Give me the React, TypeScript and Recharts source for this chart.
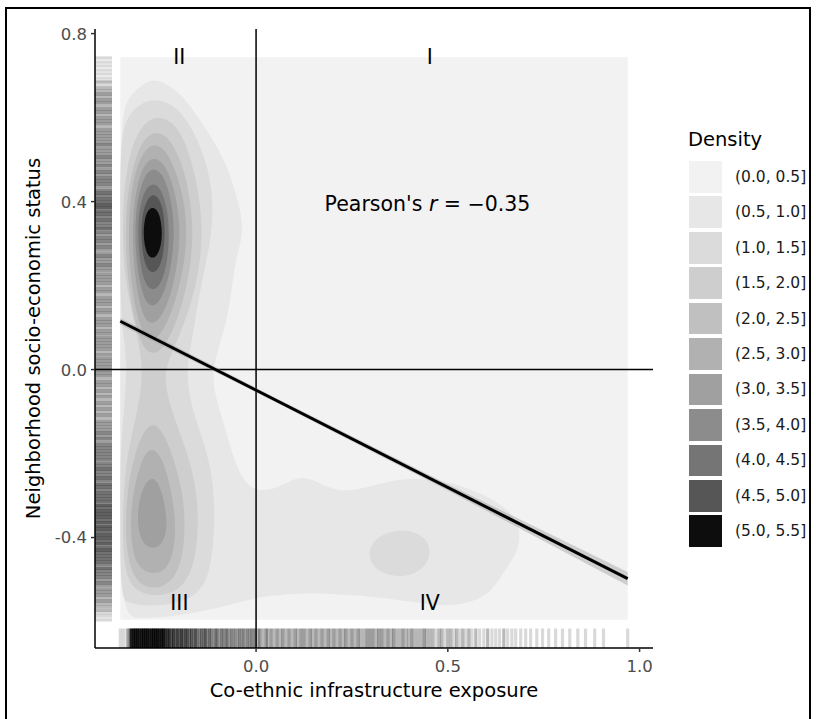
import { ScatterChart, Scatter, XAxis, YAxis } from "recharts";

const FONT = '"DejaVu Sans", sans-serif';

// panel ranges (data units)
const X_DOMAIN: [number, number] = [-0.42, 1.035];
const Y_DOMAIN: [number, number] = [-0.663, 0.811];
const xTicks = [0, 0.5, 1];
const yTicks = [-0.4, 0, 0.4, 0.8];

// density legend
const densityLevels = [
  "(0.0, 0.5]", "(0.5, 1.0]", "(1.0, 1.5]", "(1.5, 2.0]", "(2.0, 2.5]", "(2.5, 3.0]",
  "(3.0, 3.5]", "(3.5, 4.0]", "(4.0, 4.5]", "(4.5, 5.0]", "(5.0, 5.5]",
];
const densityFills = [
  "#F2F2F2", "#E7E7E7", "#DBDBDB", "#CECECE", "#C0C0C0", "#B1B1B1",
  "#A0A0A0", "#8C8C8C", "#757575", "#565656", "#0D0D0D",
];

// filled density contours, [x, y]
const band00to05: [number, number][] = [
  [-0.354, -0.596], [0.969, -0.596], [0.969, 0.744], [-0.354, 0.744],
];
const band05to10: [number, number][] = [
  [-0.258, 0.694], [-0.193, 0.658], [-0.133, 0.577], [-0.081, 0.499], [-0.055, 0.427],
  [-0.036, 0.363], [-0.036, 0.315], [-0.055, 0.254], [-0.063, 0.189], [-0.078, 0.111],
  [-0.096, 0.058], [-0.115, -0.008], [-0.107, -0.061], [-0.089, -0.113], [-0.063, -0.199],
  [-0.036, -0.263], [0.0, -0.292], [0.063, -0.282], [0.12, -0.246], [0.188, -0.284],
  [0.245, -0.292], [0.323, -0.27], [0.401, -0.258], [0.479, -0.263], [0.557, -0.283],
  [0.625, -0.312], [0.672, -0.345], [0.69, -0.39], [0.682, -0.435], [0.655, -0.47],
  [0.628, -0.51], [0.59, -0.548], [0.505, -0.565], [0.427, -0.556], [0.323, -0.542],
  [0.219, -0.535], [0.115, -0.532], [0.036, -0.539], [0.0, -0.544], [-0.068, -0.561],
  [-0.146, -0.577], [-0.224, -0.589], [-0.302, -0.592], [-0.354, -0.589], [-0.354, -0.3],
  [-0.354, 0.0], [-0.354, 0.3], [-0.354, 0.611], [-0.328, 0.654], [-0.289, 0.685],
];
const band10to15: [number, number][] = [
  [-0.258, 0.646], [-0.203, 0.625], [-0.159, 0.563], [-0.125, 0.482], [-0.112, 0.404],
  [-0.115, 0.325], [-0.133, 0.244], [-0.151, 0.165], [-0.164, 0.087], [-0.177, 0.023],
  [-0.18, -0.025], [-0.167, -0.096], [-0.133, -0.18], [-0.112, -0.263], [-0.107, -0.358],
  [-0.115, -0.454], [-0.133, -0.513], [-0.167, -0.544], [-0.224, -0.561], [-0.289, -0.563],
  [-0.333, -0.556], [-0.354, -0.544], [-0.354, -0.35], [-0.354, -0.2], [-0.345, -0.1],
  [-0.336, 0.0], [-0.345, 0.08], [-0.354, 0.15], [-0.354, 0.35], [-0.354, 0.55],
  [-0.335, 0.605], [-0.3, 0.635],
];
const band10to15Blob: [number, number][] = [
  [0.292, -0.44], [0.305, -0.408], [0.34, -0.388], [0.385, -0.38], [0.43, -0.392],
  [0.455, -0.42], [0.452, -0.455], [0.425, -0.482], [0.38, -0.495], [0.335, -0.488],
  [0.303, -0.468],
];
const band15to20: [number, number][] = [
  [-0.258, 0.606], [-0.215, 0.59], [-0.182, 0.54], [-0.158, 0.46], [-0.143, 0.38],
  [-0.141, 0.3], [-0.152, 0.22], [-0.175, 0.14], [-0.205, 0.07], [-0.235, 0.01],
  [-0.238, -0.04], [-0.212, -0.12], [-0.17, -0.22], [-0.15, -0.32], [-0.153, -0.42],
  [-0.17, -0.49], [-0.21, -0.532], [-0.26, -0.54], [-0.31, -0.53], [-0.34, -0.495],
  [-0.349, -0.4], [-0.346, -0.3], [-0.336, -0.2], [-0.312, -0.11], [-0.296, -0.03],
  [-0.3, 0.04], [-0.32, 0.12], [-0.343, 0.22], [-0.349, 0.33], [-0.344, 0.44],
  [-0.326, 0.53], [-0.296, 0.585],
];
const band20to25Upper: [number, number][] = [
  [-0.262, 0.57], [-0.225, 0.552], [-0.193, 0.492], [-0.172, 0.412], [-0.164, 0.33],
  [-0.17, 0.25], [-0.188, 0.17], [-0.213, 0.1], [-0.243, 0.048], [-0.27, 0.035],
  [-0.296, 0.052], [-0.316, 0.112], [-0.333, 0.2], [-0.341, 0.3], [-0.338, 0.4],
  [-0.322, 0.482], [-0.297, 0.546],
];
const band20to25Lower: [number, number][] = [
  [-0.268, -0.125], [-0.24, -0.15], [-0.21, -0.225], [-0.19, -0.3], [-0.185, -0.37],
  [-0.19, -0.44], [-0.21, -0.495], [-0.245, -0.52], [-0.285, -0.52], [-0.318, -0.498],
  [-0.337, -0.44], [-0.341, -0.36], [-0.333, -0.27], [-0.315, -0.195], [-0.292, -0.145],
];
const band25to30Upper: [number, number][] = [
  [-0.263, 0.539], [-0.232, 0.52], [-0.206, 0.465], [-0.187, 0.4], [-0.18, 0.33],
  [-0.186, 0.26], [-0.202, 0.19], [-0.226, 0.12], [-0.254, 0.077], [-0.275, 0.07],
  [-0.298, 0.09], [-0.316, 0.15], [-0.328, 0.23], [-0.333, 0.32], [-0.328, 0.41],
  [-0.313, 0.48], [-0.29, 0.525],
];
const band25to30Lower: [number, number][] = [
  [-0.268, -0.187], [-0.245, -0.21], [-0.225, -0.27], [-0.212, -0.34], [-0.21, -0.4],
  [-0.22, -0.455], [-0.245, -0.484], [-0.28, -0.486], [-0.31, -0.468], [-0.325, -0.42],
  [-0.328, -0.35], [-0.318, -0.28], [-0.3, -0.22], [-0.285, -0.195],
];
const band30to35Upper: [number, number][] = [
  [-0.265, 0.506], [-0.238, 0.49], [-0.216, 0.44], [-0.203, 0.38], [-0.198, 0.32],
  [-0.205, 0.25], [-0.221, 0.18], [-0.246, 0.125], [-0.27, 0.106], [-0.292, 0.12],
  [-0.307, 0.17], [-0.318, 0.24], [-0.323, 0.32], [-0.318, 0.4], [-0.305, 0.46],
  [-0.287, 0.495],
];
const band30to35Lower: [number, number][] = [
  [-0.27, -0.256], [-0.254, -0.27], [-0.24, -0.31], [-0.232, -0.36], [-0.236, -0.4],
  [-0.255, -0.425], [-0.28, -0.425], [-0.302, -0.405], [-0.31, -0.36], [-0.305, -0.31],
  [-0.29, -0.27],
];
const band35to40: [number, number][] = [
  [-0.266, 0.48], [-0.242, 0.465], [-0.226, 0.42], [-0.216, 0.37], [-0.214, 0.32],
  [-0.219, 0.26], [-0.233, 0.2], [-0.252, 0.16], [-0.27, 0.149], [-0.288, 0.16],
  [-0.302, 0.2], [-0.312, 0.26], [-0.316, 0.32], [-0.312, 0.39], [-0.3, 0.44],
  [-0.284, 0.47],
];
const band40to45: [number, number][] = [
  [-0.267, 0.446], [-0.248, 0.43], [-0.233, 0.39], [-0.227, 0.34], [-0.228, 0.28],
  [-0.239, 0.225], [-0.255, 0.195], [-0.27, 0.189], [-0.285, 0.197], [-0.298, 0.23],
  [-0.306, 0.28], [-0.308, 0.34], [-0.303, 0.39], [-0.29, 0.43],
];
const band45to50: [number, number][] = [
  [-0.268, 0.42], [-0.25, 0.405], [-0.24, 0.37], [-0.237, 0.32], [-0.243, 0.265],
  [-0.256, 0.236], [-0.27, 0.23], [-0.284, 0.238], [-0.295, 0.27], [-0.3, 0.32],
  [-0.297, 0.37], [-0.285, 0.405],
];
const band50to55: [number, number][] = [
  [-0.27, 0.388], [-0.255, 0.378], [-0.247, 0.35], [-0.245, 0.32], [-0.249, 0.29],
  [-0.259, 0.27], [-0.27, 0.265], [-0.281, 0.27], [-0.29, 0.29], [-0.294, 0.325],
  [-0.291, 0.355], [-0.284, 0.378],
];

// rug marks: [value, number of observations at that value]
const rugX: [number, number][] = [
  [-0.354, 1], [-0.346, 1], [-0.336, 2], [-0.331, 2], [-0.326, 12], [-0.32, 12], [-0.315, 12],
  [-0.31, 12], [-0.305, 12], [-0.299, 12], [-0.294, 12], [-0.289, 12], [-0.284, 12], [-0.279, 12],
  [-0.273, 12], [-0.268, 12], [-0.263, 12], [-0.258, 12], [-0.253, 12], [-0.247, 12], [-0.242, 12],
  [-0.237, 8], [-0.232, 6], [-0.227, 9], [-0.221, 5], [-0.216, 7], [-0.211, 4], [-0.206, 6],
  [-0.201, 5], [-0.195, 7], [-0.19, 4], [-0.185, 5], [-0.18, 6], [-0.174, 4], [-0.169, 5],
  [-0.164, 3], [-0.159, 5], [-0.154, 4], [-0.148, 3], [-0.143, 4], [-0.138, 3], [-0.133, 5],
  [-0.128, 3], [-0.122, 4], [-0.117, 3], [-0.112, 2], [-0.107, 3], [-0.102, 4], [-0.096, 2],
  [-0.091, 3], [-0.086, 3], [-0.081, 2], [-0.076, 4], [-0.07, 2], [-0.065, 3], [-0.06, 2],
  [-0.055, 3], [-0.049, 2], [-0.044, 3], [-0.039, 2], [-0.034, 3], [-0.029, 2], [-0.023, 3],
  [-0.018, 2], [-0.013, 3], [-0.008, 2], [-0.003, 3], [0.005, 2], [0.01, 3], [0.018, 2],
  [0.026, 3], [0.031, 2], [0.039, 3], [0.047, 2], [0.055, 3], [0.063, 2], [0.07, 3],
  [0.078, 2], [0.086, 3], [0.094, 2], [0.102, 3], [0.109, 2], [0.117, 3], [0.125, 3],
  [0.133, 2], [0.141, 3], [0.148, 2], [0.156, 3], [0.164, 2], [0.172, 3], [0.18, 2],
  [0.188, 3], [0.195, 2], [0.203, 3], [0.211, 2], [0.219, 3], [0.227, 2], [0.234, 3],
  [0.242, 2], [0.25, 3], [0.258, 2], [0.266, 3], [0.273, 2], [0.281, 2], [0.289, 3],
  [0.297, 3], [0.305, 3], [0.313, 2], [0.32, 3], [0.328, 3], [0.336, 2], [0.344, 3],
  [0.352, 2], [0.359, 3], [0.367, 2], [0.375, 2], [0.383, 3], [0.391, 2], [0.398, 2],
  [0.406, 3], [0.414, 2], [0.422, 2], [0.43, 2], [0.438, 3], [0.445, 2], [0.453, 2],
  [0.461, 2], [0.469, 1], [0.477, 2], [0.484, 2], [0.492, 1], [0.5, 2], [0.508, 2],
  [0.516, 1], [0.523, 2], [0.531, 1], [0.539, 2], [0.547, 1], [0.555, 2], [0.563, 1],
  [0.573, 2], [0.583, 1], [0.594, 1], [0.604, 2], [0.615, 1], [0.625, 1], [0.635, 1],
  [0.646, 2], [0.656, 1], [0.667, 1], [0.677, 1], [0.69, 1], [0.703, 1], [0.716, 1],
  [0.732, 1], [0.747, 1], [0.763, 1], [0.781, 1], [0.799, 1], [0.818, 1], [0.839, 1],
  [0.859, 1], [0.883, 1], [0.906, 1], [0.969, 1],
];
const rugY: [number, number][] = [
  [0.742, 1], [0.732, 1], [0.723, 1], [0.713, 1], [0.704, 1], [0.694, 1], [0.685, 2], [0.677, 1],
  [0.67, 2], [0.663, 2], [0.656, 3], [0.649, 2], [0.642, 3], [0.635, 3], [0.627, 2], [0.62, 3],
  [0.613, 3], [0.606, 2], [0.599, 3], [0.592, 3], [0.585, 3], [0.577, 2], [0.57, 3], [0.563, 3],
  [0.556, 3], [0.549, 3], [0.542, 3], [0.535, 4], [0.527, 3], [0.52, 3], [0.513, 3], [0.506, 4],
  [0.499, 3], [0.492, 3], [0.485, 4], [0.477, 3], [0.47, 4], [0.463, 3], [0.456, 4], [0.449, 4],
  [0.442, 4], [0.435, 3], [0.427, 4], [0.42, 5], [0.413, 4], [0.406, 5], [0.399, 5], [0.392, 6],
  [0.385, 6], [0.377, 5], [0.37, 5], [0.363, 4], [0.356, 5], [0.349, 4], [0.342, 4], [0.335, 5],
  [0.327, 4], [0.32, 3], [0.313, 4], [0.306, 4], [0.299, 3], [0.292, 4], [0.285, 3], [0.277, 3],
  [0.27, 4], [0.263, 3], [0.256, 3], [0.249, 4], [0.242, 3], [0.235, 3], [0.227, 3], [0.22, 3],
  [0.213, 3], [0.206, 3], [0.199, 2], [0.192, 3], [0.185, 3], [0.177, 2], [0.17, 3], [0.163, 3],
  [0.156, 3], [0.149, 2], [0.142, 3], [0.135, 3], [0.127, 2], [0.12, 3], [0.113, 3], [0.106, 3],
  [0.099, 2], [0.092, 3], [0.085, 3], [0.077, 3], [0.07, 3], [0.063, 3], [0.056, 3], [0.049, 3],
  [0.042, 2], [0.035, 3], [0.027, 3], [0.02, 3], [0.013, 3], [0.006, 3], [-0.001, 3], [-0.008, 3],
  [-0.015, 3], [-0.023, 2], [-0.03, 3], [-0.037, 3], [-0.044, 2], [-0.051, 3], [-0.058, 2],
  [-0.065, 3], [-0.073, 2], [-0.08, 3], [-0.087, 2], [-0.094, 3], [-0.101, 2], [-0.108, 3],
  [-0.115, 2], [-0.123, 3], [-0.13, 3], [-0.137, 3], [-0.144, 3], [-0.151, 4], [-0.158, 3],
  [-0.165, 4], [-0.173, 3], [-0.18, 4], [-0.187, 4], [-0.194, 4], [-0.201, 4], [-0.208, 4],
  [-0.215, 4], [-0.223, 4], [-0.23, 4], [-0.237, 5], [-0.244, 4], [-0.251, 4], [-0.258, 5],
  [-0.265, 4], [-0.273, 5], [-0.28, 5], [-0.287, 4], [-0.294, 5], [-0.301, 5], [-0.308, 5],
  [-0.315, 5], [-0.323, 6], [-0.33, 5], [-0.337, 6], [-0.344, 6], [-0.351, 6], [-0.358, 5],
  [-0.365, 6], [-0.373, 6], [-0.38, 6], [-0.387, 5], [-0.394, 6], [-0.401, 6], [-0.408, 5],
  [-0.415, 6], [-0.423, 5], [-0.43, 6], [-0.437, 5], [-0.444, 5], [-0.451, 5], [-0.458, 5],
  [-0.465, 4], [-0.473, 5], [-0.48, 4], [-0.487, 4], [-0.494, 4], [-0.501, 3], [-0.508, 4],
  [-0.515, 3], [-0.523, 3], [-0.53, 3], [-0.537, 3], [-0.544, 2], [-0.551, 3], [-0.558, 2],
  [-0.565, 2], [-0.573, 2], [-0.58, 1], [-0.587, 1], [-0.596, 1],
];

// linear fit and its confidence band
const fitLine: [number, number][] = [[-0.354, 0.115], [0.969, -0.498]];
const fitBand: [number, number][] = [
  [-0.354, 0.123], [0.05, -0.067], [0.5, -0.273], [0.969, -0.482],
  [0.969, -0.514], [0.5, -0.288], [0.05, -0.077], [-0.354, 0.107],
];

// annotations
const quadrantNotes = [
  { x: -0.2, y: 0.744, text: "II" },
  { x: 0.453, y: 0.744, text: "I" },
  { x: -0.2, y: -0.556, text: "III" },
  { x: 0.453, y: -0.556, text: "IV" },
];
const pearsonNote = [{ x: 0.447, y: 0.395, r: "−0.35" }];

const toPts = (arr: [number, number][]) => arr.map(([x, y]) => ({ x, y }));

const contours = [
  { level: 0, pts: band00to05, curve: "linearClosed" },
  { level: 1, pts: band05to10, curve: "basisClosed" },
  { level: 2, pts: band10to15, curve: "basisClosed" },
  { level: 2, pts: band10to15Blob, curve: "basisClosed" },
  { level: 3, pts: band15to20, curve: "basisClosed" },
  { level: 4, pts: band20to25Upper, curve: "basisClosed" },
  { level: 4, pts: band20to25Lower, curve: "basisClosed" },
  { level: 5, pts: band25to30Upper, curve: "basisClosed" },
  { level: 5, pts: band25to30Lower, curve: "basisClosed" },
  { level: 6, pts: band30to35Upper, curve: "basisClosed" },
  { level: 6, pts: band30to35Lower, curve: "basisClosed" },
  { level: 7, pts: band35to40, curve: "basisClosed" },
  { level: 8, pts: band40to45, curve: "basisClosed" },
  { level: 9, pts: band45to50, curve: "basisClosed" },
  { level: 10, pts: band50to55, curve: "basisClosed" },
];

const rugBottom = rugX.map(([x, n]) => ({ x, y: Y_DOMAIN[0], n }));
const rugLeft = rugY.map(([y, n]) => ({ x: X_DOMAIN[0], y, n }));
const zeroV = [{ x: 0, y: Y_DOMAIN[0] }, { x: 0, y: Y_DOMAIN[1] }];
const zeroH = [{ x: X_DOMAIN[0], y: 0 }, { x: X_DOMAIN[1], y: 0 }];

const noDot = () => <g />;
const rugAlpha = (n: number) => 1 - Math.pow(0.85, n);

const BottomRug = (p: any) => (
  <line x1={p.cx} x2={p.cx} y1={p.cy} y2={p.cy - 19.5} stroke="#000" strokeWidth={3.2} strokeOpacity={rugAlpha(p.payload.n)} />
);
const LeftRug = (p: any) => (
  <line x1={p.cx} x2={p.cx + 17} y1={p.cy} y2={p.cy} stroke="#000" strokeWidth={3.3} strokeOpacity={rugAlpha(p.payload.n)} />
);
const QuadrantText = (p: any) => (
  <text x={p.cx} y={p.cy} textAnchor="middle" dominantBaseline="central" fontSize={20.5} fill="#000">
    {p.payload.text}
  </text>
);
const PearsonText = (p: any) => (
  <text x={p.cx} y={p.cy} textAnchor="middle" dominantBaseline="central" fontSize={20.5} fill="#000">
    Pearson's <tspan fontStyle="italic">r</tspan> = {p.payload.r}
  </text>
);

const fmt = (v: number) => v.toFixed(1);

const XTick = (p: any) => (
  <text x={p.x} y={p.y} dy="0.71em" textAnchor="middle" fill="#4D4D4D" style={{ fontSize: "16.5px", fontFamily: FONT }}>
    {fmt(p.payload.value)}
  </text>
);
const YTick = (p: any) => (
  <text x={p.x} y={p.y} dy="0.36em" textAnchor="end" fill="#4D4D4D" style={{ fontSize: "16.5px", fontFamily: FONT }}>
    {fmt(p.payload.value)}
  </text>
);

export default function App() {
  return (
    <div style={{ position: "absolute", left: 0, top: 0, width: 816, height: 719, background: "#fff", fontFamily: FONT, overflow: "hidden" }}>
      <ScatterChart width={816} height={719} margin={{ top: 29, right: 163, bottom: 41, left: 35 }}>
        <XAxis
          type="number"
          dataKey="x"
          domain={X_DOMAIN}
          allowDataOverflow
          ticks={xTicks}
          height={30}
          tickSize={4}
          tickMargin={8}
          axisLine={{ stroke: "#000", strokeWidth: 1.5 }}
          tickLine={{ stroke: "#333", strokeWidth: 1.5 }}
          tick={XTick}
          label={{ value: "Co-ethnic infrastructure exposure", position: "insideBottom", offset: -19, fill: "#000", fontSize: 19.5, fontFamily: FONT }}
        />
        <YAxis
          type="number"
          dataKey="y"
          domain={Y_DOMAIN}
          allowDataOverflow
          ticks={yTicks}
          width={60}
          tickSize={4}
          tickMargin={4}
          axisLine={{ stroke: "#000", strokeWidth: 1.5 }}
          tickLine={{ stroke: "#333", strokeWidth: 1.5 }}
          tick={YTick}
          label={{ value: "Neighborhood socio-economic status", angle: -90, position: "insideLeft", offset: -2, fill: "#000", fontSize: 19.5, fontFamily: FONT, style: { textAnchor: "middle" } }}
        />

        {contours.map((c, i) => (
          <Scatter
            key={`band-${i}`}
            data={toPts(c.pts)}
            shape={noDot}
            line={{ fill: densityFills[c.level], stroke: "none" }}
            lineJointType={c.curve as any}
            isAnimationActive={false}
          />
        ))}

        <Scatter data={rugBottom} shape={BottomRug} isAnimationActive={false} />
        <Scatter data={rugLeft} shape={LeftRug} isAnimationActive={false} />

        <Scatter data={zeroV} shape={noDot} line={{ stroke: "#000", strokeWidth: 1.5 }} lineJointType="linear" isAnimationActive={false} />
        <Scatter data={zeroH} shape={noDot} line={{ stroke: "#000", strokeWidth: 1.5 }} lineJointType="linear" isAnimationActive={false} />

        <Scatter data={toPts(fitBand)} shape={noDot} line={{ fill: "#999999", fillOpacity: 0.4, stroke: "none" }} lineJointType="linearClosed" isAnimationActive={false} />
        <Scatter data={toPts(fitLine)} shape={noDot} line={{ stroke: "#000", strokeWidth: 3 }} lineJointType="linear" isAnimationActive={false} />

        <Scatter data={quadrantNotes} shape={QuadrantText} isAnimationActive={false} />
        <Scatter data={pearsonNote} shape={PearsonText} isAnimationActive={false} />
      </ScatterChart>

      {/* legend */}
      <div style={{ position: "absolute", left: 688, top: 130, fontSize: 19.5, lineHeight: 1, color: "#000" }}>Density</div>
      <div style={{ position: "absolute", left: 689, top: 161 }}>
        {densityLevels.map((lab, i) => (
          <div key={lab} style={{ display: "flex", alignItems: "center", height: 35.45 }}>
            <div style={{ width: 33, height: 31.7, background: densityFills[i], marginTop: -3.75 }} />
            <div style={{ marginLeft: 13, marginTop: -3.75, fontSize: 15.5, color: "#1A1A1A", whiteSpace: "nowrap" }}>{lab}</div>
          </div>
        ))}
      </div>

      {/* outer frame */}
      <div style={{ position: "absolute", left: 5, top: 7, width: 806, height: 730, boxSizing: "border-box", borderLeft: "2px solid #000", borderTop: "2px solid #000", borderRight: "2px solid #000" }} />
    </div>
  );
}
